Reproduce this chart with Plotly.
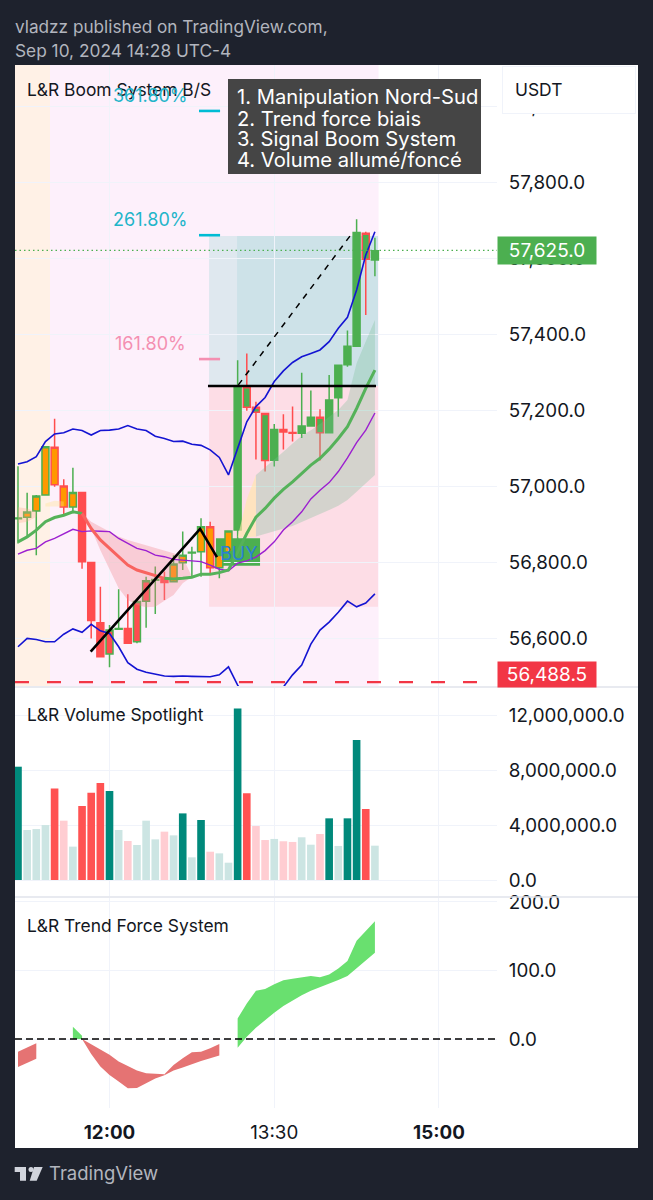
import plotly.graph_objects as go
from plotly.subplots import make_subplots

W, H = 653, 1200
FONT = "Inter"
DAY = "2024-09-10 "

TIMES = ["11:10", "11:15", "11:20", "11:25", "11:30", "11:35", "11:40", "11:45", "11:50", "11:55",
         "12:00", "12:05", "12:10", "12:15", "12:20", "12:25", "12:30", "12:35", "12:40", "12:45",
         "12:50", "12:55", "13:00", "13:05", "13:10", "13:15", "13:20", "13:25", "13:30", "13:35",
         "13:40", "13:45", "13:50", "13:55", "14:00", "14:05", "14:10", "14:15", "14:20", "14:25"]

# candle values, body given as bottom/top
BODY_LOW = [56914, 56917.5, 56934, 56976, 57003, 56945, 56945, 56801, 56646, 56551,
            56558, 56623, 56586, 56590, 56697, 56752, 56746, 56748, 56798, 56823.5,
            56827, 56785, 56785, 56827, 56884, 57207, 57194, 57067, 57068, 57142,
            57139, 57139, 57158, 57140, 57140, 57232, 57319, 57368, 57596.5, 57595]
BODY_HIGH = [56916, 56931.5, 56974, 57103.5, 57102, 57000, 56983, 56983, 56799, 56640,
             56621, 56625, 56625, 56696, 56751, 56754, 56754, 56795, 56818, 56825.5,
             56893, 56893, 56820, 56881.5, 57261, 57261, 57207, 57191, 57149, 57149,
             57141, 57158, 57181, 57181, 57226, 57318, 57368, 57667, 57665, 57619]
HIGHS = [57052, 56982, 56976, 57105, 57177, 57018, 57048, 56985, 56799, 56735,
         56634, 56728, 56715, 56696, 56761, 56788, 56775, 56818, 56880, 56840,
         56915, 56906, 56858, 56881.5, 57331, 57349, 57222, 57191, 57163, 57189,
         57209, 57298, 57251, 57202, 57292, 57318, 57409, 57702, 57669, 57653]
LOWS = [56849, 56867, 56818, 56975, 56998, 56924, 56928, 56782, 56599, 56551,
        56523, 56621, 56586, 56586, 56627, 56663, 56700, 56746, 56779, 56761,
        56761, 56766, 56757, 56805, 56850, 57198, 57070, 57038, 57051, 57096,
        57117, 57126, 57156, 57067, 57140, 57182, 57314, 57368, 57450, 57552]
# fill+border of every candle
STYLES = ["gg", "og", "og", "og", "or", "or", "og", "rr", "rr", "rr",
          "rg", "gg", "rr", "rg", "rg", "gg", "rr", "og", "og", "gg",
          "og", "or", "og", "og", "gg", "gr", "gr", "gr", "gg", "rr",
          "rr", "gg", "gg", "gr", "gg", "gg", "gg", "gg", "gr", "gg"]
FILLS = {"g": "#4caf50", "r": "#ff4d4f", "o": "#ff9800"}

BAND_UP = [57058, 57064, 57077, 57117, 57137, 57140, 57150, 57146, 57134, 57146,
           57147, 57150, 57159, 57150, 57146, 57131, 57125, 57117, 57118, 57110,
           57107, 57095, 57075, 57029, 57099, 57169, 57209, 57233, 57275, 57303,
           57325, 57340, 57349, 57358, 57380, 57415, 57444, 57516, 57608, 57669]
BAND_LOW = [56577, 56599, 56596, 56590, 56590, 56610, 56624, 56615, 56636, 56619,
            56612, 56577, 56535, 56518, 56510, 56505, 56500, 56499, 56500, 56499,
            56499, 56498, 56503, 56524, 56476, 56440, 56410, 56400, 56420, 56471,
            56503, 56529, 56584, 56621, 56642, 56668, 56697, 56682, 56692, 56716]
PURPLE = [56821, 56831, 56836, 56853, 56862, 56873, 56886, 56880, 56882, 56881,
          56880, 56862, 56849, 56836, 56830, 56818, 56814, 56807, 56805, 56803,
          56801, 56792, 56781, 56777, 56797, 56803, 56813, 56830, 56853, 56884,
          56906, 56932, 56966, 56989, 57009, 57038, 57074, 57114, 57147, 57192]
EMA_UP_A = [56853, 56866, 56884, 56906, 56917, 56923, 56932, 56928]
EMA_DOWN = [56928, 56888, 56858, 56836, 56814, 56792, 56779, 56772, 56764, 56757]
EMA_UP_B = [56757, 56755, 56757, 56760, 56768, 56768, 56772, 56779, 56826, 56875,
            56918, 56941, 56968, 56991, 57011, 57033, 57055, 57073, 57097, 57125,
            57156, 57204, 57257, 57305]

CLOUD_RED_UP = [56928, 56906, 56893, 56880, 56867, 56858, 56851, 56843, 56836, 56831, 56823, 56814, 56761]
CLOUD_RED_LOW = [56928, 56888, 56831, 56779, 56731, 56700, 56687, 56681, 56682, 56698, 56713, 56744, 56761]
CLOUD_GREEN_UP = [57029, 57049, 57070, 57090, 57112, 57132, 57147, 57163, 57182, 57200, 57226, 57323, 57380, 57437]
CLOUD_GREEN_LOW = [56867, 56874, 56882, 56889, 56895, 56905, 56915, 56926, 56937, 56948, 56963, 56985, 57007, 57029]
CREAM_UP = [56865, 56965, 57029]
CREAM_LOW = [56865, 56865, 56867]
BLOB_UP = [56944, 56941, 56932]
BLOB_LOW = [56902, 56906, 56919]
YELLOW_UP = [56954, 56961, 56959]
YELLOW_LOW = [56946, 56946, 56946]

VOLUME = [8250000, 3640000, 3710000, 4000000, 6670000, 4320000, 2430000, 5390000, 6360000, 7060000,
          6480000, 3640000, 2840000, 2550000, 4320000, 2960000, 3520000, 3250000, 4850000, 1650000,
          4370000, 2060000, 1940000, 1260000, 12480000, 6310000, 3930000, 2910000, 2990000, 2820000,
          2770000, 3110000, 2570000, 3350000, 4490000, 2480000, 4490000, 10190000, 5170000, 2500000]
VOL_KIND = ["T", "t", "t", "t", "R", "r", "t", "R", "R", "R",
            "T", "t", "r", "t", "t", "t", "r", "t", "T", "t",
            "T", "r", "t", "t", "T", "R", "r", "r", "t", "r",
            "r", "t", "t", "r", "T", "t", "T", "T", "R", "t"]
VOL_COLORS = {"T": "#00897b", "R": "#ff5252", "t": "#cce5e3", "r": "#ffcdd2"}

# trend force ribbon: (first bar, upper, lower, colour)
FORCE_SEGMENTS = [
    (0, [-18.5, -12, -6.3], [-41, -35, -29], "#e57373"),
    (6, [18, 4.9], [0, 0], "#69e06f"),
    (7, [0, -7.3, -15, -23, -33, -40, -46, -50, -51, -51.5], [0, -22, -40, -52.5, -62, -72, -71.5, -64, -57.5, -53], "#e57373"),
    (16, [-51.5, -38, -28, -19.5, -18.5, -13.6, -7.3], [-53, -46, -41.5, -36.5, -32, -28, -24], "#e57373"),
    (24, [30, 52, 70.5, 73, 80, 85.6, 88, 90, 92, 90, 94, 103, 114, 143.5, 158, 171.8],
     [-12.6, 3.4, 16.5, 27.7, 38.4, 48, 56.4, 63.7, 70.5, 75.4, 80, 86, 92, 103, 114, 126], "#69e06f"),
]

PRICE_TICKS = [56600, 56800, 57000, 57200, 57400, 57600, 57800, 58000]
VOL_TICKS = [0, 4000000, 8000000, 12000000]
FORCE_TICKS = [0, 100, 200]
TIME_TICKS = [DAY + "12:00", DAY + "13:30", DAY + "15:00"]
TIME_LABELS = ["<b>12:00</b>", "13:30", "<b>15:00</b>"]

INFO_LINES = ["1. Manipulation Nord-Sud", "2. Trend force biais", "3. Signal Boom System", "4. Volume allumé/foncé"]


def px(x):
    return x / W


def py(y):
    return 1 - y / H


def poly(points):
    return "M " + " L ".join(f"{px(x):.5f},{py(y):.5f}" for x, y in points) + " Z"


def text(s, x, y, size, color, anchor="left", **kw):
    fig.add_annotation(text=s, xref="paper", yref="paper", x=px(x), y=py(y), xanchor=anchor, yanchor="middle",
                       showarrow=False, font=dict(family=FONT, size=size, color=color), **kw)


def band(x, up, low, color):
    # two lines with the fill between them
    fig.add_trace(go.Scatter(x=x, y=up, mode="lines", line=dict(width=0), showlegend=False, hoverinfo="skip"), row=1, col=1)
    fig.add_trace(go.Scatter(x=x, y=low, mode="lines", line=dict(width=0), fill="tonexty", fillcolor=color,
                             showlegend=False, hoverinfo="skip"), row=1, col=1)


x = [DAY + t for t in TIMES]
fig = make_subplots(rows=3, cols=1, shared_xaxes=True)

band(x[7:20], CLOUD_RED_UP, CLOUD_RED_LOW, "rgba(244,130,140,0.33)")
band(x[26:40], CLOUD_GREEN_UP, CLOUD_GREEN_LOW, "rgba(120,190,150,0.30)")
band(x[24:27], CREAM_UP, CREAM_LOW, "rgba(255,230,170,0.65)")
band(x[0:3], BLOB_UP, BLOB_LOW, "rgba(255,170,140,0.30)")
band(x[3:6], YELLOW_UP, YELLOW_LOW, "rgba(255,225,140,0.35)")

fig.add_trace(go.Scatter(x=x, y=BAND_UP, mode="lines", line=dict(color="#1414d2", width=1.6), showlegend=False), row=1, col=1)
fig.add_trace(go.Scatter(x=x, y=BAND_LOW, mode="lines", line=dict(color="#1414d2", width=1.6), showlegend=False), row=1, col=1)
fig.add_trace(go.Scatter(x=x, y=PURPLE, mode="lines", line=dict(color="#9c1fd0", width=1.4), showlegend=False), row=1, col=1)
fig.add_trace(go.Scatter(x=x[:8], y=EMA_UP_A, mode="lines", line=dict(color="#55b25a", width=3), showlegend=False), row=1, col=1)
fig.add_trace(go.Scatter(x=x[7:17], y=EMA_DOWN, mode="lines", line=dict(color="#f8635f", width=3), showlegend=False), row=1, col=1)
fig.add_trace(go.Scatter(x=x[16:], y=EMA_UP_B, mode="lines", line=dict(color="#55b25a", width=3), showlegend=False), row=1, col=1)

for style in sorted(set(STYLES)):
    keep = [s == style for s in STYLES]
    side = dict(line=dict(color=FILLS[style[1]], width=1.5), fillcolor=FILLS[style[0]])
    fig.add_trace(go.Candlestick(
        x=x,
        open=[v if k else None for v, k in zip(BODY_LOW, keep)],
        close=[v if k else None for v, k in zip(BODY_HIGH, keep)],
        high=[v if k else None for v, k in zip(HIGHS, keep)],
        low=[v if k else None for v, k in zip(LOWS, keep)],
        increasing=side, decreasing=side, whiskerwidth=0, showlegend=False,
    ), row=1, col=1)

# drawn trend lines
fig.add_trace(go.Scatter(x=[DAY + "11:49:42", DAY + "12:49:30", DAY + "12:58:42"], y=[56564, 56887, 56813], mode="lines",
                         line=dict(color="#000000", width=2.6), showlegend=False), row=1, col=1)
fig.add_trace(go.Scatter(x=[DAY + "13:10:24", DAY + "14:11:24"], y=[57266, 57658], mode="lines",
                         line=dict(color="#000000", width=1.5, dash="6px,6px"), showlegend=False), row=1, col=1)
fig.add_trace(go.Scatter(x=[DAY + "12:53:48", DAY + "14:25:36"], y=[57263, 57263], mode="lines",
                         line=dict(color="#000000", width=2.6), showlegend=False), row=1, col=1)

fig.add_trace(go.Bar(x=x, y=VOLUME, width=250000, marker=dict(color=[VOL_COLORS[k] for k in VOL_KIND], line=dict(width=0)),
                     showlegend=False), row=2, col=1)

for first, up, low, color in FORCE_SEGMENTS:
    seg_x = x[first:first + len(up)]
    fig.add_trace(go.Scatter(x=seg_x, y=up, mode="lines", line=dict(width=0), showlegend=False, hoverinfo="skip"), row=3, col=1)
    fig.add_trace(go.Scatter(x=seg_x, y=low, mode="lines", line=dict(width=0), fill="tonexty", fillcolor=color,
                             showlegend=False, hoverinfo="skip"), row=3, col=1)

axis_font = dict(family=FONT, size=18.8, color="#131722")
grid = "#f0f3fa"
for row in (1, 2, 3):
    fig.update_xaxes(domain=[px(15), px(497)], range=[DAY + "11:08:22", DAY + "15:31:42"], type="date",
                     tickmode="array", tickvals=TIME_TICKS, ticktext=TIME_LABELS, automargin=False,
                     showgrid=True, gridcolor=grid, gridwidth=1, zeroline=False, showline=False,
                     rangeslider_visible=False, tickfont=axis_font, ticks="outside", ticklen=7,
                     tickcolor="rgba(0,0,0,0)", showticklabels=row == 3, row=row, col=1)

fig.update_yaxes(domain=[py(686), py(65)], range=[56473.7, 58107.9], side="right", tickmode="array", tickvals=PRICE_TICKS,
                 tickformat=",.1f", row=1, col=1)
fig.update_yaxes(domain=[py(896), py(688)], range=[-1165000, 13980000], side="right", tickmode="array", tickvals=VOL_TICKS,
                 tickformat=",.1f", row=2, col=1)
fig.update_yaxes(domain=[py(1108), py(898)], range=[-100.7, 205.8], side="right", tickmode="array", tickvals=FORCE_TICKS,
                 tickformat=".1f", row=3, col=1)
fig.update_yaxes(showgrid=True, gridcolor=grid, gridwidth=1, zeroline=False, showline=False, tickfont=axis_font,
                 automargin=False, ticks="outside", ticklen=7, tickcolor="rgba(0,0,0,0)")

# frame, session backgrounds
fig.add_shape(type="rect", xref="paper", yref="paper", x0=px(15), x1=px(638), y0=py(1148), y1=py(65),
              fillcolor="#ffffff", line_width=0, layer="below")
fig.add_shape(type="rect", xref="x", yref="paper", x0=DAY + "11:08:22", x1=DAY + "11:27:30", y0=py(686), y1=py(65),
              fillcolor="#fff1e6", line_width=0, layer="below")
fig.add_shape(type="rect", xref="x", yref="paper", x0=DAY + "11:27:30", x1=DAY + "14:27:00", y0=py(686), y1=py(65),
              fillcolor="#fdf0fb", line_width=0, layer="below")

# long/short position boxes
fig.add_shape(type="rect", x0=DAY + "12:54:24", x1=DAY + "14:26:42", y0=57263, y1=57658, xref="x", yref="y",
              fillcolor="#dfe8ef", line_width=0, layer="below")
fig.add_shape(type="rect", x0=DAY + "13:09:42", x1=DAY + "14:26:42", y0=57263, y1=57658, xref="x", yref="y",
              fillcolor="#cde2e8", line_width=0, layer="below")
fig.add_shape(type="rect", x0=DAY + "12:54:24", x1=DAY + "14:26:42", y0=56682, y1=57263, xref="x", yref="y",
              fillcolor="#fddde6", line_width=0, layer="below")

# BUY label, under the candles
fig.add_shape(type="rect", x0=DAY + "12:58:42", x1=DAY + "13:21:42", y0=56793, y1=56860, xref="x", yref="y",
              fillcolor="#4caf50", line=dict(color="#4caf50", width=2), layer="below")

# fib ticks
for level, color in [(57987, "#00bcd4"), (57660, "#00bcd4"), (57334, "#f48fb1")]:
    fig.add_shape(type="line", x0=DAY + "12:48:54", x1=DAY + "13:00:24", y0=level, y1=level, xref="x", yref="y",
                  line=dict(color=color, width=2.6))

# price lines
fig.add_shape(type="line", x0=DAY + "11:08:22", x1=DAY + "15:31:42", y0=57620, y1=57620, xref="x", yref="y",
              line=dict(color="#4caf50", width=1.3, dash="1.5px,3px"))
fig.add_shape(type="line", x0=DAY + "11:08:22", x1=DAY + "15:22:24", y0=56484, y1=56484, xref="x", yref="y",
              line=dict(color="#f23645", width=2.4, dash="14px,18px"))
fig.add_shape(type="line", xref="x3", yref="y3", x0=DAY + "11:08:22", x1=DAY + "15:31:42", y0=0, y1=0,
              line=dict(color="#000000", width=1.3, dash="7px,4px"))

# pane separators
for sep in (687, 897):
    fig.add_shape(type="line", xref="paper", yref="paper", x0=px(15), x1=px(638), y0=py(sep), y1=py(sep),
                  line=dict(color="#e0e3eb", width=1.5))

# note box
fig.add_shape(type="rect", xref="paper", yref="paper", x0=px(228), x1=px(481), y0=py(174), y1=py(79),
              fillcolor="#454545", line_width=0, layer="above")

# TradingView logo
fig.add_shape(type="path", xref="paper", yref="paper", line_width=0, fillcolor="#d1d4dc",
              path=poly([(14.7, 1167), (26, 1167), (26, 1180.7), (20, 1180.7), (20, 1172), (14.7, 1172)]))
fig.add_shape(type="path", xref="paper", yref="paper", line_width=0, fillcolor="#d1d4dc",
              path=poly([(34, 1167), (42.7, 1167), (36.7, 1180.7), (29.7, 1180.7)]))
fig.add_shape(type="circle", xref="paper", yref="paper", line_width=0, fillcolor="#d1d4dc",
              x0=px(28.5), x1=px(33.5), y0=py(1172), y1=py(1167))

fig.update_layout(width=W, height=H, margin=dict(l=0, r=0, t=0, b=0), autosize=False, paper_bgcolor="#1e222d",
                  plot_bgcolor="rgba(0,0,0,0)", showlegend=False, boxgap=0.2, boxgroupgap=0.05, font=dict(family=FONT))

text("vladzz published on TradingView.com,", 13, 26, 17.2, "#b2b5be")
text("Sep 10, 2024 14:28 UTC-4", 13, 51, 17.3, "#b2b5be")
text("L&R Boom System B/S", 25, 90, 17.4, "#131722")
text("L&R Volume Spotlight", 25, 714, 17.4, "#131722")
text("L&R Trend Force System", 25, 925, 17.4, "#131722")
text("361.80%", 150, 96, 18, "#22b5c9", anchor="center")
text("261.80%", 150, 219, 18, "#22b5c9", anchor="center")
text("161.80%", 150, 343, 18, "#f48fb1", anchor="center")
text("BUY", 238, 553, 18, "#2a7fd5", anchor="center")
for line, ly in zip(INFO_LINES, [97, 118, 138, 159]):
    text(line, 235, ly, 20.2, "#ffffff")
# white box hides most of the 58,000 tick, as in the original
fig.add_annotation(text=" ", xref="paper", yref="paper", x=px(502), y=py(90), xanchor="left", yanchor="middle", showarrow=False,
                   width=130, height=44, bgcolor="#ffffff", bordercolor="#f0f3fa", borderwidth=1)
text("USDT", 513, 89, 17.4, "#131722")
fig.add_annotation(text="57,625.0", xref="paper", yref="paper", x=px(497), y=py(250.5), xanchor="left", yanchor="middle", showarrow=False,
                   width=96, height=25, bgcolor="#4caf50", font=dict(family=FONT, size=19, color="#ffffff"))
fig.add_annotation(text="56,488.5", xref="paper", yref="paper", x=px(497), y=py(674.5), xanchor="left", yanchor="middle", showarrow=False,
                   width=96, height=23, bgcolor="#f23645", font=dict(family=FONT, size=19, color="#ffffff"))
text("TradingView", 47, 1173, 18.5, "#b2b5be")

# the browser's default body margin would push the figure 8px off
fig.write_html("out.html", config={"displayModeBar": False}, post_script="document.body.style.margin='0';")
